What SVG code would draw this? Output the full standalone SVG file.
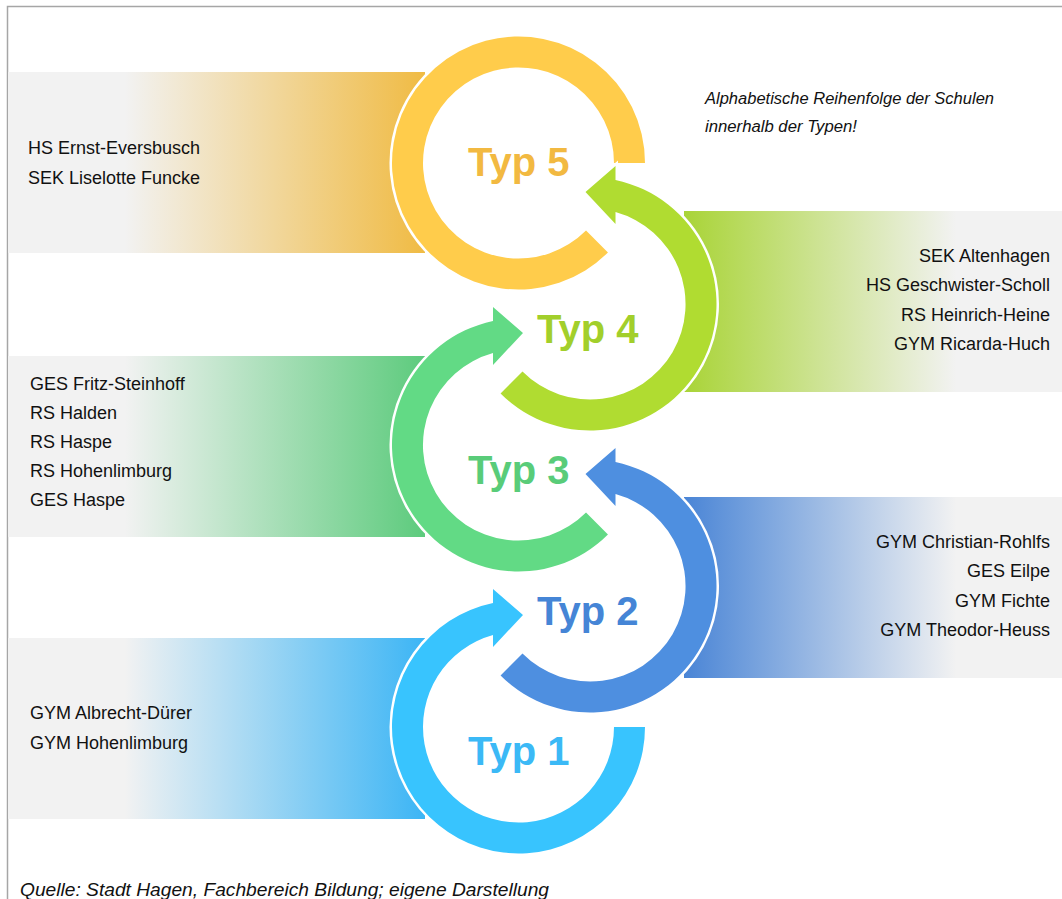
<svg xmlns="http://www.w3.org/2000/svg" width="1062" height="899" viewBox="0 0 1062 899">
<defs>
<style>
.lst{font-family:"Liberation Sans",Arial,sans-serif;font-size:18px;fill:#111}
.r{text-anchor:end}
.typ{font-family:"Liberation Sans",Arial,sans-serif;font-size:40px;font-weight:bold}
.note{font-family:"Liberation Sans",Arial,sans-serif;font-style:italic;fill:#111}
.ring{stroke:#fff;stroke-width:5;stroke-linejoin:miter;paint-order:stroke}
</style>
<linearGradient id="g5" x1="0" y1="0" x2="1" y2="0"><stop offset="0" stop-color="#F2F2F2"/><stop offset="0.28" stop-color="#F2F2F2"/><stop offset="1" stop-color="#F0BB44"/></linearGradient>
<linearGradient id="g3" x1="0" y1="0" x2="1" y2="0"><stop offset="0" stop-color="#F2F2F2"/><stop offset="0.28" stop-color="#F2F2F2"/><stop offset="1" stop-color="#5DCB7D"/></linearGradient>
<linearGradient id="g1" x1="0" y1="0" x2="1" y2="0"><stop offset="0" stop-color="#F2F2F2"/><stop offset="0.28" stop-color="#F2F2F2"/><stop offset="1" stop-color="#3CB5F5"/></linearGradient>
<linearGradient id="g4" x1="0" y1="0" x2="1" y2="0"><stop offset="0" stop-color="#A9D437"/><stop offset="0.72" stop-color="#F2F2F2"/><stop offset="1" stop-color="#F2F2F2"/></linearGradient>
<linearGradient id="g2" x1="0" y1="0" x2="1" y2="0"><stop offset="0" stop-color="#4A85D6"/><stop offset="0.72" stop-color="#F2F2F2"/><stop offset="1" stop-color="#F2F2F2"/></linearGradient>
</defs>
<rect width="1062" height="899" fill="#fff"/>
<path d="M7.5 899 V6.5 H1062" fill="none" stroke="#A6A6A6" stroke-width="1.5"/>

<g id="typ5">
<rect x="8" y="72" width="417" height="181" fill="url(#g5)"/>
<path class="ring" fill="#FFCC4B" d="M645,163 A126.5 126.5 0 1 0 607.95,252.45 L586.03,230.53 A95.5 95.5 0 1 1 614,163 Z"/>
<text class="typ" x="468" y="176" fill="#F2B941">Typ 5</text>
<text class="lst" x="28" y="154">HS Ernst-Eversbusch</text>
<text class="lst" x="28" y="184">SEK Liselotte Funcke</text>
</g>

<g id="typ4">
<rect x="684" y="211" width="378" height="181" fill="url(#g4)"/>
<path class="ring" fill="#B0DC31" d="M500.55,393.45 A126.5 126.5 0 1 0 615.5,180.1 L615.5,166 L585.5,192 L615.5,224 L615.5,212 A95.5 95.5 0 1 1 522.47,371.53 Z"/>
<text class="typ" x="537" y="343" fill="#A2CF2B">Typ 4</text>
<text class="lst r" x="1050" y="262">SEK Altenhagen</text>
<text class="lst r" x="1050" y="291">HS Geschwister-Scholl</text>
<text class="lst r" x="1050" y="321">RS Heinrich-Heine</text>
<text class="lst r" x="1050" y="350">GYM Ricarda-Huch</text>
</g>

<g id="typ3">
<rect x="8" y="356" width="417" height="181" fill="url(#g3)"/>
<path class="ring" fill="#62DA85" d="M607.95,534.45 A126.5 126.5 0 1 1 493,321.1 L493,307 L523,333 L493,365 L493,353 A95.5 95.5 0 1 0 586.03,512.53 Z"/>
<text class="typ" x="468" y="484" fill="#59CC79">Typ 3</text>
<text class="lst" x="30" y="390">GES Fritz-Steinhoff</text>
<text class="lst" x="30" y="419">RS Halden</text>
<text class="lst" x="30" y="448">RS Haspe</text>
<text class="lst" x="30" y="477">RS Hohenlimburg</text>
<text class="lst" x="30" y="506">GES Haspe</text>
</g>

<g id="typ2">
<rect x="684" y="497" width="378" height="181" fill="url(#g2)"/>
<path class="ring" fill="#4E8FE0" d="M500.55,675.45 A126.5 126.5 0 1 0 615.5,462.1 L615.5,448 L585.5,474 L615.5,506 L615.5,494 A95.5 95.5 0 1 1 522.47,653.53 Z"/>
<text class="typ" x="537" y="625" fill="#4585D6">Typ 2</text>
<text class="lst r" x="1050" y="548">GYM Christian-Rohlfs</text>
<text class="lst r" x="1050" y="577">GES Eilpe</text>
<text class="lst r" x="1050" y="607">GYM Fichte</text>
<text class="lst r" x="1050" y="636">GYM Theodor-Heuss</text>
</g>

<g id="typ1">
<rect x="8" y="638" width="417" height="181" fill="url(#g1)"/>
<path class="ring" fill="#38C4FE" d="M645,727 A126.5 126.5 0 1 1 493,603.1 L493,589 L523,615 L493,647 L493,635 A95.5 95.5 0 1 0 614,727 Z"/>
<text class="typ" x="468" y="765" fill="#3BB9F6">Typ 1</text>
<text class="lst" x="30" y="718.5">GYM Albrecht-Dürer</text>
<text class="lst" x="30" y="748.5">GYM Hohenlimburg</text>
</g>

<g id="connectors"></g>

<g id="notes">
<text class="note" x="705" y="104" font-size="16" textLength="289" lengthAdjust="spacingAndGlyphs">Alphabetische Reihenfolge der Schulen</text>
<text class="note" x="705" y="132" font-size="16" textLength="152" lengthAdjust="spacingAndGlyphs">innerhalb der Typen!</text>
<text class="note" x="20" y="896" font-size="19" textLength="529" lengthAdjust="spacingAndGlyphs">Quelle: Stadt Hagen, Fachbereich Bildung; eigene Darstellung</text>
</g>
</svg>
